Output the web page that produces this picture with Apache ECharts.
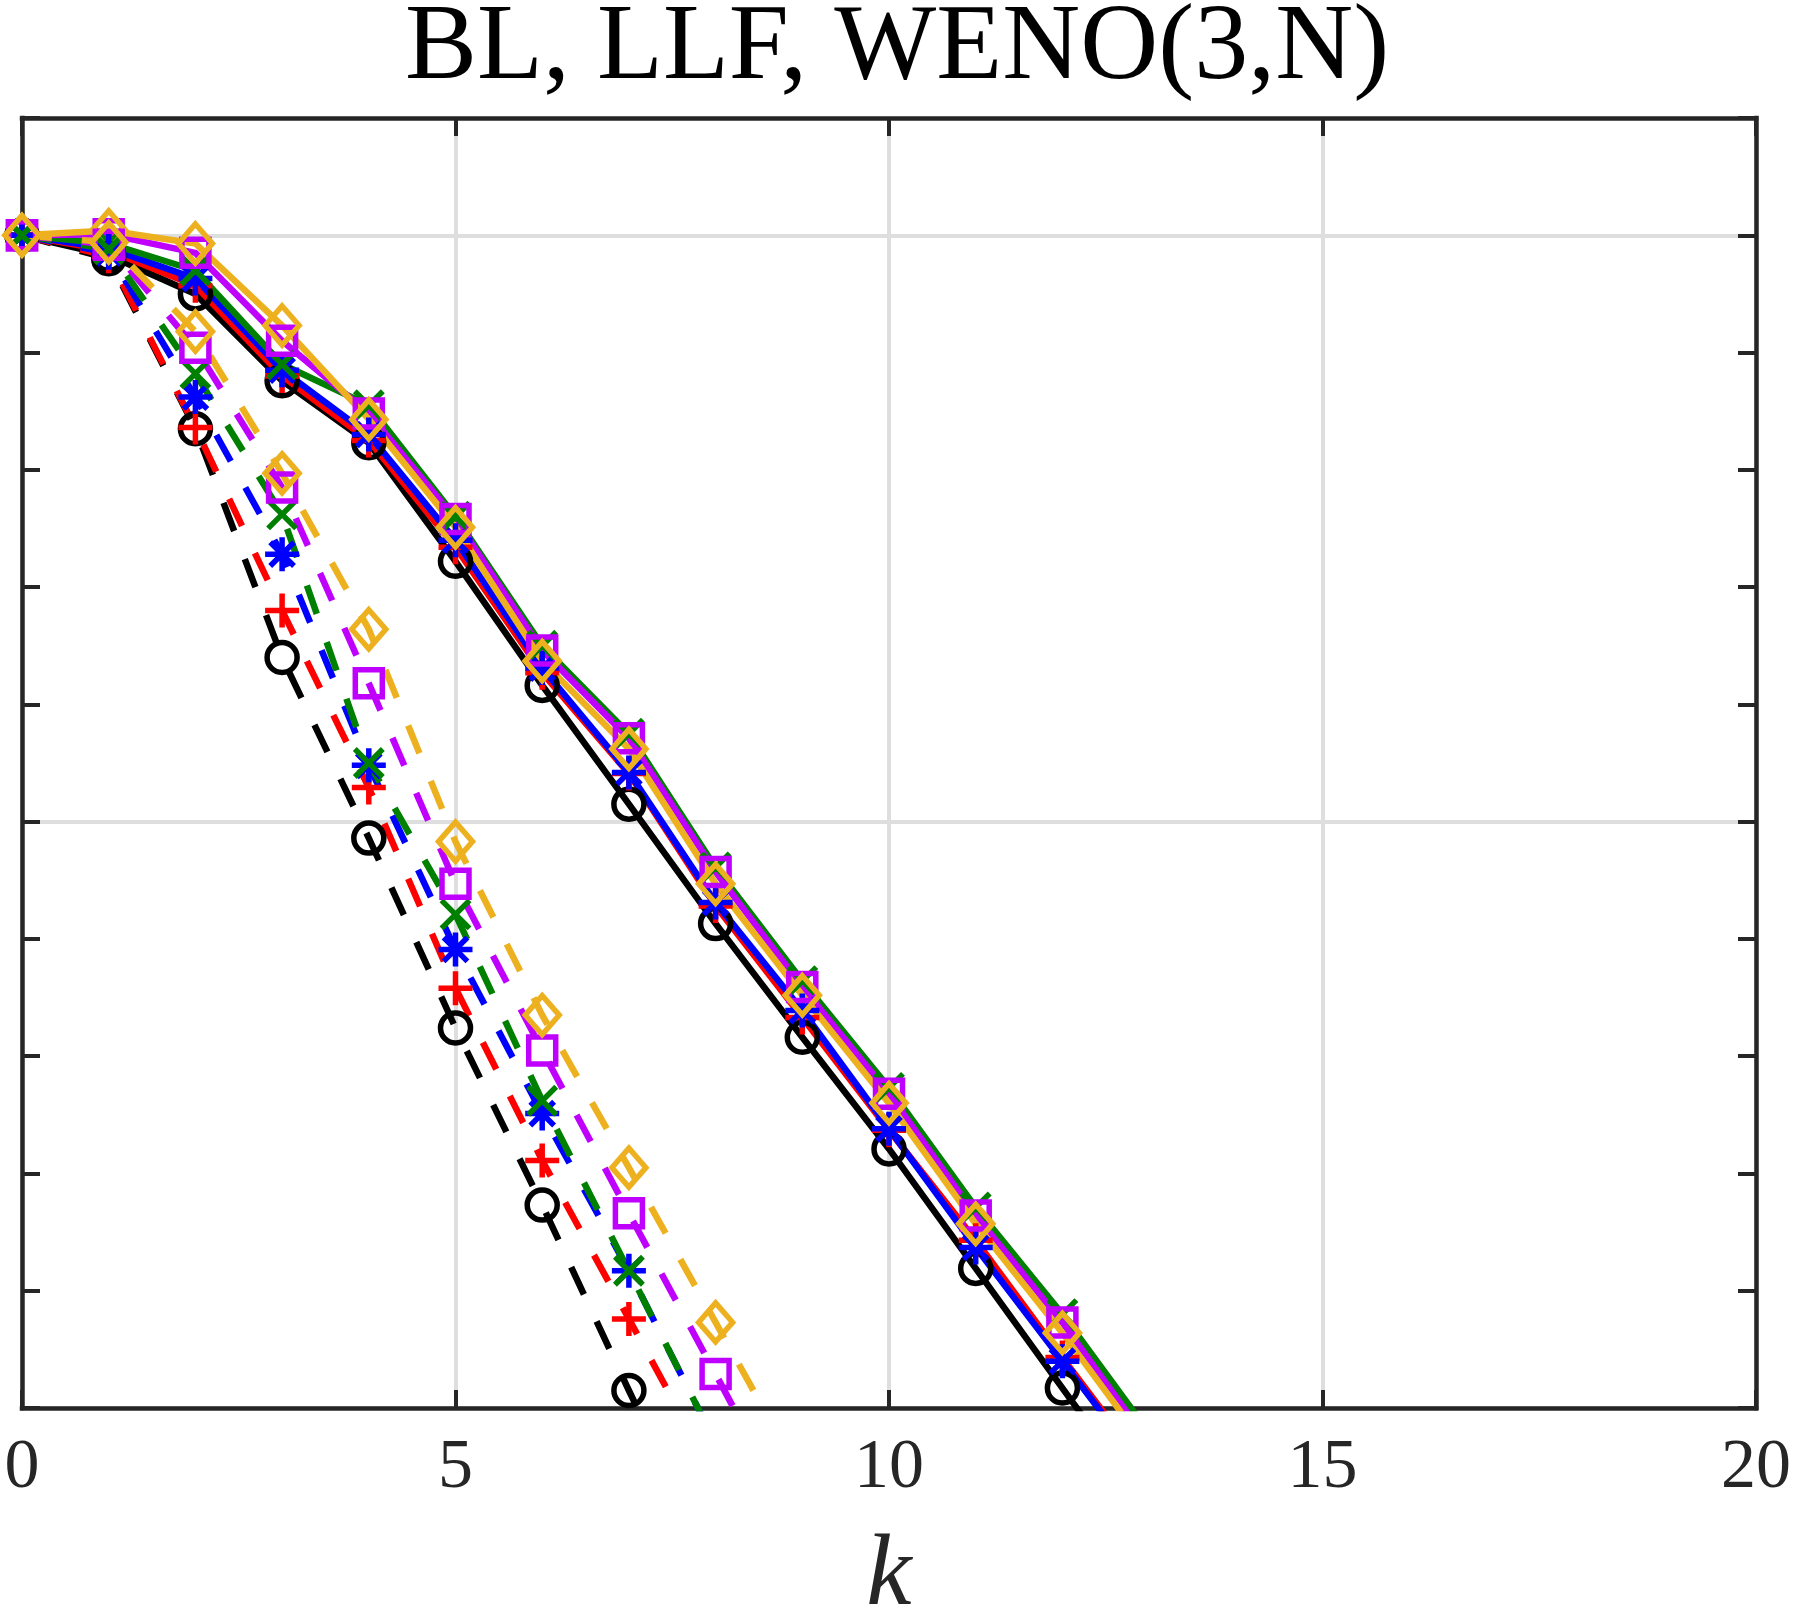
<!DOCTYPE html>
<html>
<head>
<meta charset="utf-8">
<script src="https://cdn.jsdelivr.net/npm/echarts@6/dist/echarts.min.js"></script>
<style>
html,body{margin:0;padding:0;background:#ffffff;}
#chart{width:1794px;height:1618px;}
</style>
</head>
<body>
<div id="chart"></div>
<script>
// ---------------- data ----------------
const TITLE = 'BL, LLF, WENO(3,N)';
const X_NAME = 'k';
const X_TICKS = [0, 5, 10, 15, 20];
const Y_MIN = 1e-10;
const Y_MAX = 10;

// iteration index k
const kSolid  = [0, 1, 2, 3, 4, 5, 6, 7, 8, 9, 10, 11, 12, 13];
const kDashed = [0, 1, 2, 3, 4, 5, 6, 7, 8, 9];

// solid lines (error vs k)
const solidBlack  = [1, 0.676, 0.316, 5.75e-2, 1.70e-2, 1.66e-3, 1.45e-4, 1.41e-5, 1.35e-6, 1.45e-7, 1.62e-8, 1.55e-9, 1.48e-10, 1.41e-11];
const solidRed    = [1, 0.741, 0.372, 6.31e-2, 1.78e-2, 2.19e-3, 1.86e-4, 2.57e-5, 1.91e-6, 2.14e-7, 2.34e-8, 2.69e-9, 2.69e-10, 2.82e-11];
const solidBlue   = [1, 0.776, 0.427, 7.08e-2, 2.00e-2, 2.51e-3, 2.04e-4, 2.63e-5, 2.04e-6, 2.45e-7, 2.40e-8, 2.34e-9, 2.51e-10, 2.69e-11];
const solidGreen  = [1, 0.851, 0.501, 7.94e-2, 3.55e-2, 3.98e-3, 3.16e-4, 5.62e-5, 4.07e-6, 4.37e-7, 5.37e-8, 5.13e-9, 6.31e-10, 6.17e-11];
const solidPurple = [1, 1.02, 0.708, 0.126, 3.02e-2, 3.80e-3, 2.88e-4, 5.13e-5, 3.72e-6, 3.89e-7, 4.79e-8, 4.37e-9, 5.37e-10, 5.01e-11];
const solidOrange = [1, 1.10, 0.851, 0.170, 2.69e-2, 3.24e-3, 2.34e-4, 4.17e-5, 2.95e-6, 3.31e-7, 3.98e-8, 3.72e-9, 4.37e-10, 4.37e-11];

// dashed lines (error vs k)
const dashedBlack  = [1, 0.631, 2.24e-2, 2.51e-4, 7.24e-6, 1.74e-7, 5.37e-9, 1.41e-10, 3.98e-12];
const dashedRed    = [1, 0.661, 2.29e-2, 6.31e-4, 1.95e-5, 3.80e-7, 1.29e-8, 5.75e-10, 2.51e-11];
const dashedBlue   = [1, 0.708, 4.17e-2, 1.91e-3, 3.02e-5, 8.13e-7, 3.24e-8, 1.48e-9, 5.01e-11];
const dashedGreen  = [1, 0.759, 6.61e-2, 4.17e-3, 3.16e-5, 1.62e-6, 4.17e-8, 1.48e-9, 5.01e-11];
const dashedPurple = [1, 0.832, 0.110, 7.08e-3, 1.51e-4, 2.95e-6, 1.12e-7, 4.57e-9, 1.95e-10, 7.94e-12];
const dashedOrange = [1, 0.871, 0.151, 9.33e-3, 4.37e-4, 6.76e-6, 2.24e-7, 1.12e-8, 5.37e-10, 2.51e-11];

// ---------------- styling ----------------
const AX = '#262626';
const GRID = '#dedede';
const FONT = 'Liberation Serif';
const LW = 6.5;
const C = { black:'#000000', red:'#ff0000', blue:'#0000ff', green:'#008000', purple:'#bf00ff', orange:'#edb120' };
const SYM = {
  circle: { symbol: 'circle', size: 30 },
  plus:   { symbol: 'path://M0,10L20,10M10,0L10,20', size: 34 },
  star:   { symbol: 'path://M0,10L20,10M10,0L10,20M3,3L17,17M3,17L17,3', size: 34 },
  cross:  { symbol: 'path://M0,0L20,20M0,20L20,0', size: 28 },
  square: { symbol: 'rect', size: 27 },
  diamond:{ symbol: 'diamond', size: [34, 39] }
};

function makeSeries(name, ks, vals, color, sym, dashed) {
  return {
    name: name,
    type: 'line',
    xAxisIndex: 0,
    yAxisIndex: 0,
    data: ks.map((k, i) => [k, vals[i]]),
    symbol: SYM[sym].symbol,
    symbolSize: SYM[sym].size,
    showSymbol: true,
    clip: true,
    lineStyle: { color: color, width: LW, type: dashed ? [30, 30] : 'solid', cap: 'butt', join: 'miter' },
    itemStyle: { color: 'rgba(0,0,0,0)', borderColor: color, borderWidth: 5.5 },
    emphasis: { disabled: true },
    z: 2
  };
}

const series = [
  makeSeries('solid black',  kSolid, solidBlack,  C.black,  'circle',  false),
  makeSeries('solid red',    kSolid, solidRed,    C.red,    'plus',    false),
  makeSeries('solid blue',   kSolid, solidBlue,   C.blue,   'star',    false),
  makeSeries('solid green',  kSolid, solidGreen,  C.green,  'cross',   false),
  makeSeries('solid purple', kSolid, solidPurple, C.purple, 'square',  false),
  makeSeries('solid orange', kSolid, solidOrange, C.orange, 'diamond', false),
  makeSeries('dashed black',  kDashed, dashedBlack,  C.black,  'circle',  true),
  makeSeries('dashed red',    kDashed, dashedRed,    C.red,    'plus',    true),
  makeSeries('dashed blue',   kDashed, dashedBlue,   C.blue,   'star',    true),
  makeSeries('dashed green',  kDashed, dashedGreen,  C.green,  'cross',   true),
  makeSeries('dashed purple', kDashed, dashedPurple, C.purple, 'square',  true),
  makeSeries('dashed orange', kDashed, dashedOrange, C.orange, 'diamond', true)
];

const axLine = { show: true, onZero: false, lineStyle: { color: AX, width: 4.5, cap: 'square' } };
const axTick = { show: true, inside: true, length: 18, lineStyle: { color: AX, width: 4 } };
// y ticks every decade; grid lines only every fifth decade (1e-10, 1e-5, 1e0)
const yGridColors = [GRID, 'rgba(0,0,0,0)', 'rgba(0,0,0,0)', 'rgba(0,0,0,0)', 'rgba(0,0,0,0)'];

const option = {
  animation: false,
  backgroundColor: '#ffffff',
  title: {
    text: TITLE,
    left: 'center',
    top: -9,
    textStyle: { fontFamily: FONT, fontSize: 108, fontWeight: 'normal', color: '#000000' }
  },
  grid: { left: 22, right: 38, top: 118, bottom: 210, containLabel: false, outerBoundsMode: 'none' },
  xAxis: [
    {
      type: 'value', position: 'bottom',
      min: X_TICKS[0], max: X_TICKS[X_TICKS.length - 1], interval: X_TICKS[1] - X_TICKS[0],
      axisLine: axLine, axisTick: axTick,
      axisLabel: { show: true, margin: 26, fontFamily: FONT, fontSize: 70, color: AX, showMinLabel: true, showMaxLabel: true },
      splitLine: { show: true, lineStyle: { color: GRID, width: 4 } },
      name: X_NAME, nameLocation: 'middle', nameGap: 118,
      nameTextStyle: { fontFamily: FONT, fontStyle: 'italic', fontSize: 102, color: AX }
    },
    {
      type: 'value', position: 'top',
      min: X_TICKS[0], max: X_TICKS[X_TICKS.length - 1], interval: X_TICKS[1] - X_TICKS[0],
      axisLine: axLine, axisTick: axTick,
      axisLabel: { show: false }, splitLine: { show: false }
    }
  ],
  yAxis: [
    {
      type: 'log', logBase: 10, position: 'left',
      min: Y_MIN, max: Y_MAX, interval: 1,
      axisLine: axLine, axisTick: axTick,
      axisLabel: { show: false },
      splitLine: { show: true, lineStyle: { color: yGridColors, width: 4 } }
    },
    {
      type: 'log', logBase: 10, position: 'right',
      min: Y_MIN, max: Y_MAX, interval: 1,
      axisLine: axLine, axisTick: axTick,
      axisLabel: { show: false },
      splitLine: { show: false }
    }
  ],
  series: series
};

const chart = echarts.init(document.getElementById('chart'), null, { renderer: 'canvas' });
chart.setOption(option);
</script>
</body>
</html>
